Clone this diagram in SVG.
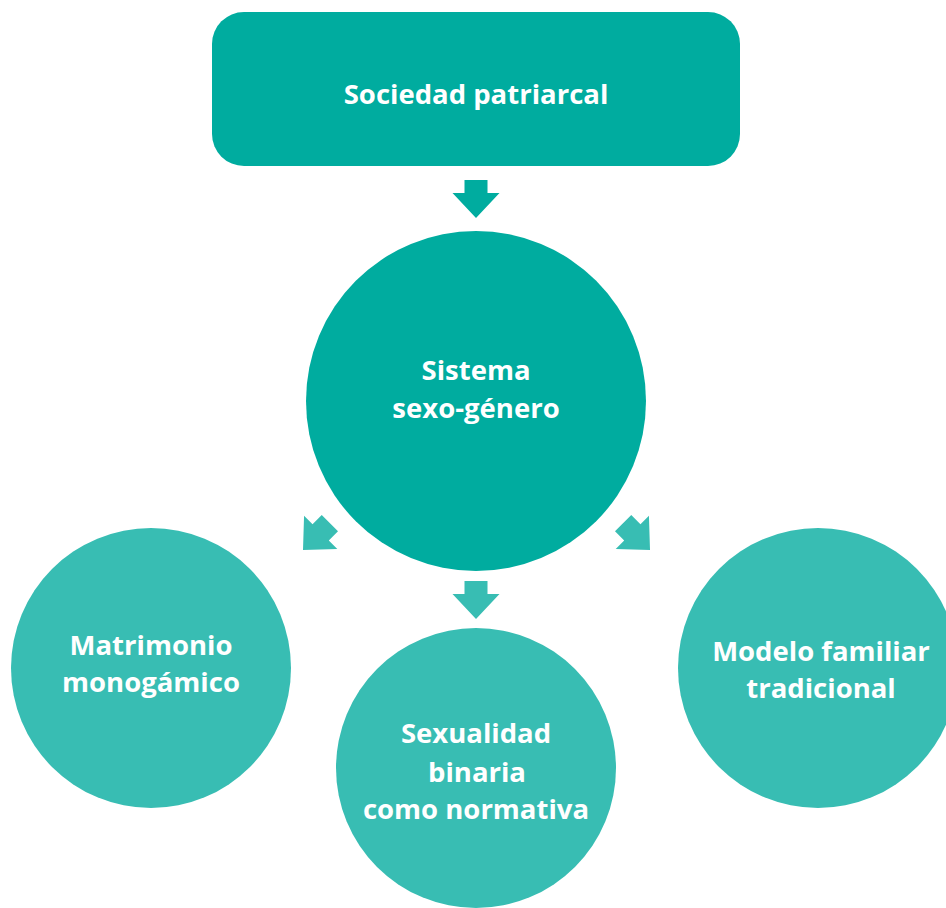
<svg xmlns="http://www.w3.org/2000/svg" width="946" height="908" viewBox="0 0 946 908">
<style>
.dark{fill:#00ac9f}
.light{fill:#38bdb3}
text{font-family:"Open Sans","Noto Sans","Liberation Sans",sans-serif;font-weight:700;font-size:27.5px;fill:#ffffff;text-anchor:middle}
</style>
<defs>
<polygon id="arr" points="-11.5,-38 11.5,-38 11.5,-25 23.5,-25 0,0 -23.5,-25 -11.5,-25"/>
</defs>
<rect width="946" height="908" fill="#ffffff"/>
<g id="connectors">
<use href="#arr" class="dark" transform="translate(476,218)"/>
<use href="#arr" class="light" transform="translate(476,619)"/>
<use href="#arr" class="light" transform="translate(303,550) rotate(45)"/>
<use href="#arr" class="light" transform="translate(650,550) rotate(-45)"/>
</g>
<g id="sociedad">
<rect x="212" y="12" width="528" height="154" rx="32" class="dark"/>
<text x="476" y="104">Sociedad patriarcal</text>
</g>
<g id="sistema">
<circle cx="476" cy="401" r="170" class="dark"/>
<text x="476" y="380">Sistema</text>
<text x="476" y="418">sexo-género</text>
</g>
<g id="matrimonio">
<circle cx="151" cy="668" r="140" class="light"/>
<text x="151" y="655">Matrimonio</text>
<text x="151" y="692">monogámico</text>
</g>
<g id="sexualidad">
<circle cx="476" cy="768" r="140" class="light"/>
<text x="476" y="743">Sexualidad</text>
<text x="477" y="782">binaria</text>
<text x="476" y="819">como normativa</text>
</g>
<g id="modelo">
<circle cx="818" cy="668" r="140" class="light"/>
<text x="821" y="661">Modelo familiar</text>
<text x="821" y="698">tradicional</text>
</g>
</svg>
